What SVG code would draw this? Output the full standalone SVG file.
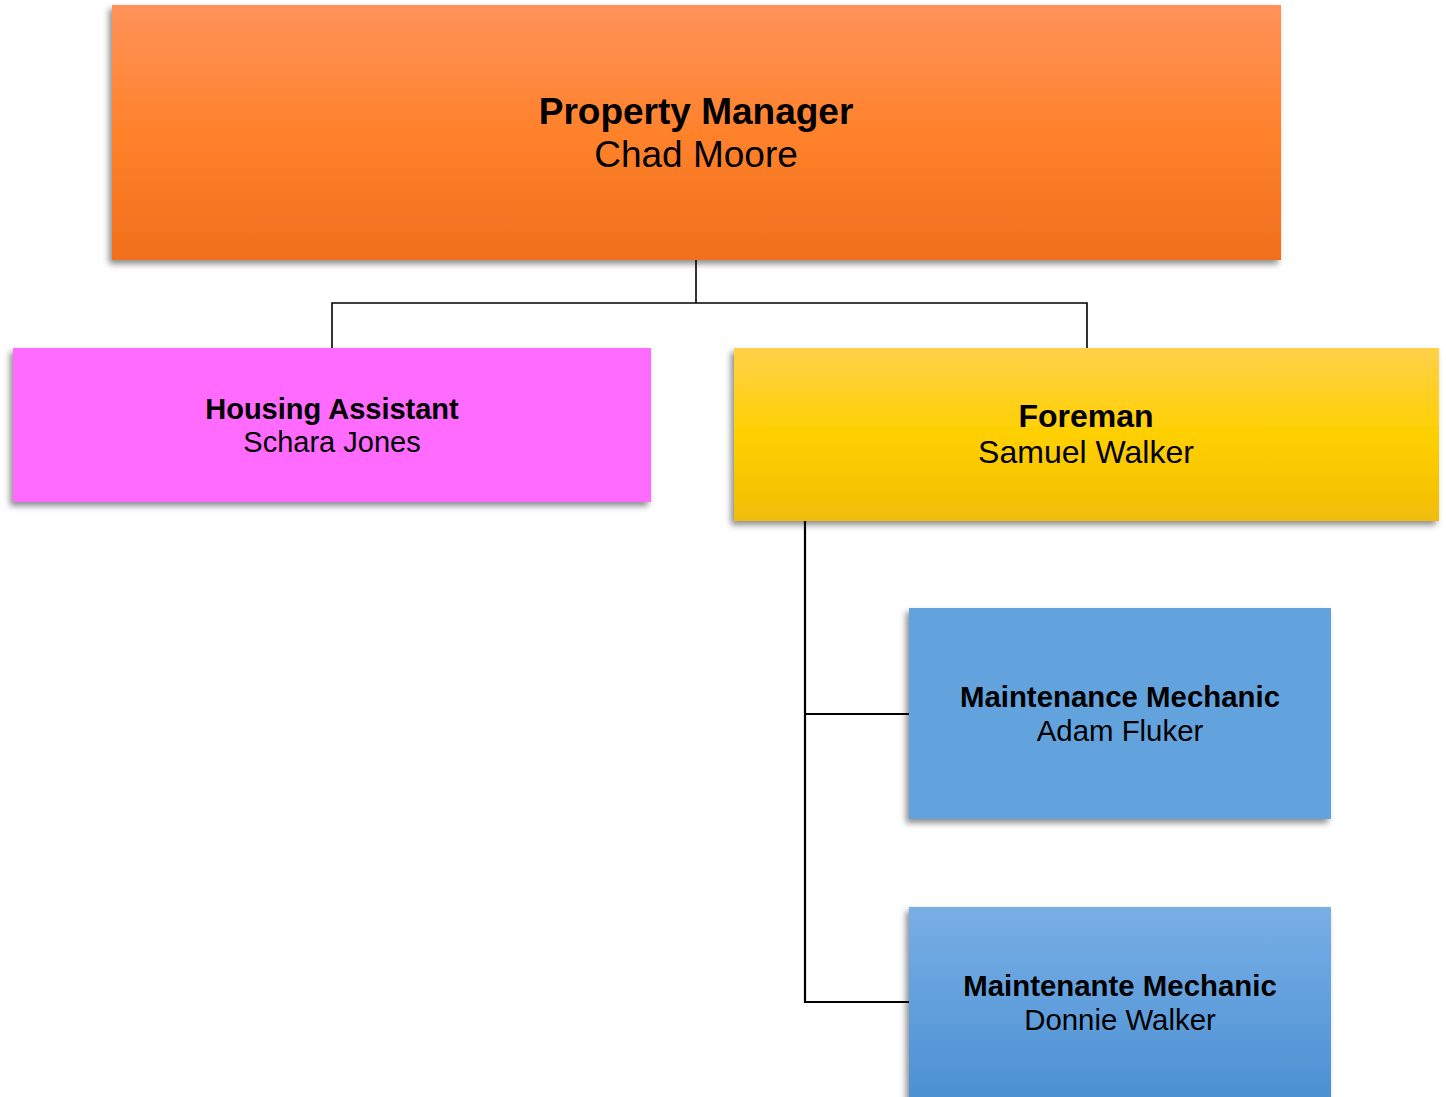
<svg xmlns="http://www.w3.org/2000/svg" width="1446" height="1097" viewBox="0 0 1446 1097">
<style>
.t{font-family:"Liberation Sans",Arial,sans-serif;fill:#000;text-anchor:middle}
.b{font-weight:bold}
.conn{fill:none;stroke:#000;stroke-linecap:square}
</style>
<defs>
<filter id="sh" x="-10%" y="-10%" width="120%" height="130%">
<feDropShadow dx="-3" dy="4" stdDeviation="3" flood-color="#000" flood-opacity="0.45"/>
</filter>
<linearGradient id="gOr" x1="0" y1="0" x2="0" y2="1">
<stop offset="0" stop-color="#FF925A"/>
<stop offset="0.5" stop-color="#FF822B"/>
<stop offset="1" stop-color="#F06F1C"/>
</linearGradient>
<linearGradient id="gYe" x1="0" y1="0" x2="0" y2="1">
<stop offset="0" stop-color="#FFD14A"/>
<stop offset="0.5" stop-color="#FFD000"/>
<stop offset="1" stop-color="#F0BD08"/>
</linearGradient>
<linearGradient id="gBl" x1="0" y1="0" x2="0" y2="1">
<stop offset="0" stop-color="#78AFE6"/>
<stop offset="1" stop-color="#4A8FD2"/>
</linearGradient>
</defs>
<rect width="1446" height="1097" fill="#fff"/>
<g id="connectors">
<path class="conn" stroke-width="1.6" d="M696 260V303M332 348V303H1087V348"/>
<path class="conn" stroke-width="2.2" d="M805 521V1002H909M805 714H909"/>
</g>
<g id="property-manager">
<rect x="112" y="5" width="1169" height="255" fill="url(#gOr)" filter="url(#sh)"/>
<text class="t b" x="696" y="124" font-size="37">Property Manager</text>
<text class="t" x="696" y="167" font-size="37">Chad Moore</text>
</g>
<g id="housing-assistant">
<rect x="13" y="348" width="638" height="154" fill="#FF6BFF" filter="url(#sh)"/>
<text class="t b" x="332" y="419" font-size="29">Housing Assistant</text>
<text class="t" x="332" y="452" font-size="29">Schara Jones</text>
</g>
<g id="foreman">
<rect x="734" y="348" width="705" height="173" fill="url(#gYe)" filter="url(#sh)"/>
<text class="t b" x="1086" y="427" font-size="32">Foreman</text>
<text class="t" x="1086" y="463" font-size="32">Samuel Walker</text>
</g>
<g id="maintenance-mechanic-1">
<rect x="909" y="608" width="422" height="211" fill="#62A3DE" filter="url(#sh)"/>
<text class="t b" x="1120" y="707" font-size="29.4">Maintenance Mechanic</text>
<text class="t" x="1120" y="741" font-size="29.4">Adam Fluker</text>
</g>
<g id="maintenance-mechanic-2">
<rect x="909" y="907" width="422" height="200" fill="url(#gBl)" filter="url(#sh)"/>
<text class="t b" x="1120" y="996" font-size="29.4">Maintenante Mechanic</text>
<text class="t" x="1120" y="1030" font-size="29.4">Donnie Walker</text>
</g>
</svg>
